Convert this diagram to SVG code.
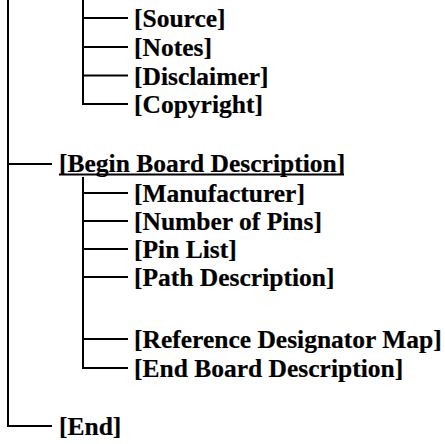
<svg xmlns="http://www.w3.org/2000/svg" width="445" height="444" viewBox="0 0 445 444">
<style>
.t{font-family:"Liberation Serif","Times New Roman",serif;font-weight:bold;font-size:25.5px;fill:#000;stroke:#000;stroke-width:0.2}
.c{stroke:#000;stroke-width:2;fill:none}
</style>
<rect width="445" height="444" fill="#fff"/>
<g id="connectors" class="c">
<path d="M8,0 V426 H52"/>
<path d="M8,164 H52"/>
<path d="M83,0 V104 H128"/>
<path d="M83,18 H128 M83,47 H128 M83,75.5 H128"/>
<path d="M83,177 V368 H128"/>
<path d="M83,193 H128 M83,221 H128 M83,249 H128 M83,277 H128 M83,339 H128"/>
</g>
<g id="source"><text class="t" x="134" y="27">[Source]</text></g>
<g id="notes"><text class="t" x="134" y="56">[Notes]</text></g>
<g id="disclaimer"><text class="t" x="134" y="84.5">[Disclaimer]</text></g>
<g id="copyright"><text class="t" x="134" y="113">[Copyright]</text></g>
<g id="begin-board"><text class="t" x="59" y="172">[Begin Board Description]</text><line x1="59" y1="174.5" x2="344" y2="174.5" stroke="#000" stroke-width="2"/></g>
<g id="manufacturer"><text class="t" x="134" y="202">[Manufacturer]</text></g>
<g id="number-of-pins"><text class="t" x="134" y="230">[Number of Pins]</text></g>
<g id="pin-list"><text class="t" x="134" y="258">[Pin List]</text></g>
<g id="path-description"><text class="t" x="134" y="286">[Path Description]</text></g>
<g id="reference-designator-map"><text class="t" x="134" y="348">[Reference Designator Map]</text></g>
<g id="end-board"><text class="t" x="134" y="377">[End Board Description]</text></g>
<g id="end"><text class="t" x="59" y="435">[End]</text></g>
</svg>
